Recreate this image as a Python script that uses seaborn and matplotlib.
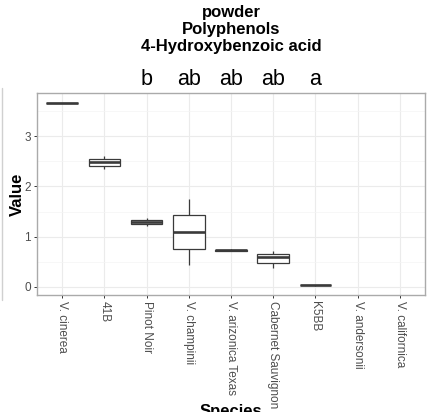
import matplotlib
matplotlib.use("Agg")
import matplotlib.pyplot as plt
from matplotlib.lines import Line2D
from matplotlib.ticker import MultipleLocator
import seaborn as sns
import pandas as pd

sns.set_theme(style="white")
plt.rcParams["font.family"] = ["Liberation Sans", "DejaVu Sans"]

species = ["V. cinerea", "41B", "Pinot Noir", "V. champinii", "V. arizonica Texas",
           "Cabernet Sauvignon", "K5BB", "V. andersonii", "V. californica"]

# measured 4-hydroxybenzoic acid values per species (replicates)
v_cinerea = [3.65, 3.66, 3.66, 3.66, 3.67]
b41 = [2.34, 2.40, 2.48, 2.54, 2.61]
pinot_noir = [1.22, 1.25, 1.29, 1.33, 1.38]
v_champinii = [0.43, 0.75, 1.10, 1.43, 1.76]
v_arizonica_texas = [0.71, 0.72, 0.73, 0.735, 0.745]
cabernet_sauvignon = [0.37, 0.47, 0.585, 0.66, 0.72]
k5bb = [0.02, 0.025, 0.03, 0.03, 0.035]

values = {
    "V. cinerea": v_cinerea,
    "41B": b41,
    "Pinot Noir": pinot_noir,
    "V. champinii": v_champinii,
    "V. arizonica Texas": v_arizonica_texas,
    "Cabernet Sauvignon": cabernet_sauvignon,
    "K5BB": k5bb,
}

# significance letters shown above the groups
letter_species = ["Pinot Noir", "V. champinii", "V. arizonica Texas", "Cabernet Sauvignon", "K5BB"]
letters = ["b", "ab", "ab", "ab", "a"]

df = pd.DataFrame([(s, v) for s, vals in values.items() for v in vals],
                  columns=["Species", "Value"])

W, H = 429, 412
fig = plt.figure(figsize=(W / 100, H / 100), dpi=100)
ax = fig.add_axes([37 / W, (H - 295) / H, (425 - 37) / W, (295 - 93) / H])

line_col = "#3a3a3a"
sns.boxplot(data=df, x="Species", y="Value", order=species, ax=ax,
            width=0.75, whis=10, color="white", linecolor=line_col, linewidth=0.9,
            medianprops=dict(color=line_col, linewidth=1.9),
            capprops=dict(linewidth=0), showfliers=False)
for p in ax.patches:
    p.set_facecolor("white")

ax.set_xlim(-0.6, len(species) - 0.4)
ax.set_ylim(-0.165, 3.865)
ax.yaxis.set_major_locator(MultipleLocator(1))
ax.yaxis.set_minor_locator(MultipleLocator(0.5))

ax.set_axisbelow(True)
ax.grid(True, which="major", color="#ebebeb", linewidth=0.8)
ax.grid(True, which="minor", axis="y", color="#f4f4f4", linewidth=0.5)
ax.tick_params(axis="y", which="minor", length=0)
for s in ax.spines.values():
    s.set_visible(True)
    s.set_color("#aaaaaa")
    s.set_linewidth(1.0)

ax.tick_params(axis="both", which="major", length=2.5, width=0.7, color="#333333",
               labelsize=8.5, labelcolor="#4d4d4d", pad=2, bottom=True, left=True)
ax.set_xticks(range(len(species)))
ax.set_xticklabels(species, rotation=-90, ha="center", va="top")

ax.set_ylabel("Value", fontsize=12, fontweight="bold", color="black")
ax.yaxis.set_label_coords(-(37 - 25) / 388, 0.5)
ax.set_xlabel("Species", fontsize=12, fontweight="bold", color="black")
ax.xaxis.set_label_coords(0.5, -(404 - 295) / 202)

for s, lab in zip(letter_species, letters):
    ax.text(species.index(s), 1 + 8 / 202, lab, transform=ax.get_xaxis_transform(),
            ha="center", va="baseline", fontsize=15.5, color="black")

cx = 231 / W
for txt, yb in [("powder", 17), ("Polyphenols", 34), ("4-Hydroxybenzoic acid", 51)]:
    fig.text(cx, 1 - yb / H, txt, ha="center", va="baseline", fontsize=12,
             fontweight="bold", color="black")

# faint border of the neighbouring panel at the far left
fig.add_artist(Line2D([1.5 / W, 1.5 / W], [1 - 88 / H, 1 - 300 / H],
                      transform=fig.transFigure, color="#d0d0d0", linewidth=1))

fig.savefig("out.png", dpi=100)
